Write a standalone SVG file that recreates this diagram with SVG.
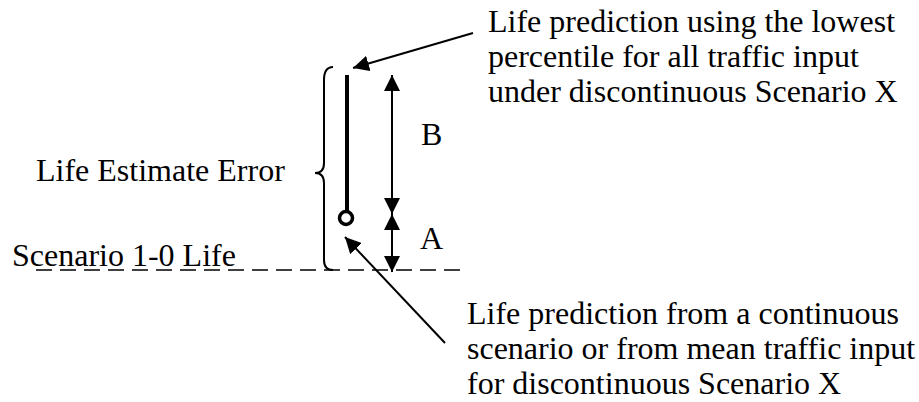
<svg xmlns="http://www.w3.org/2000/svg" width="919" height="402" viewBox="0 0 919 402">
<style>
text{font-family:"Liberation Serif","Times New Roman",serif;font-size:32px;fill:#000}
.ln{stroke:#000;fill:none;stroke-width:2}
</style>
<defs>
<marker id="ah" viewBox="0 0 16 16" refX="16" refY="8" markerWidth="16" markerHeight="16" markerUnits="userSpaceOnUse" orient="auto">
<path d="M0,0 L16,8 L0,16 z" fill="#000"/>
</marker>
</defs>
<rect width="919" height="402" fill="#fff"/>
<g id="baseline">
<line x1="36" y1="270" x2="460" y2="270" stroke="#000" stroke-width="1.5" stroke-dasharray="16,8"/>
<text x="12" y="266">Scenario 1-0 Life</text>
</g>
<g id="brace">
<path class="ln" stroke-width="1.5" d="M333,67 Q324,67 324,80 L324,163 Q324,173 315,173 Q324,173 324,183 L324,260 Q324,270 333,270"/>
<text x="36" y="181">Life Estimate Error</text>
</g>
<g id="bar">
<line x1="347" y1="75" x2="347" y2="211" stroke="#000" stroke-width="4"/>
<circle cx="346" cy="218" r="6.5" fill="none" stroke="#000" stroke-width="3.5"/>
</g>
<g id="dimB">
<line class="ln" stroke-width="1.5" x1="392" y1="214" x2="392" y2="75" marker-end="url(#ah)"/>
<line class="ln" stroke-width="1.5" x1="392" y1="75" x2="392" y2="214" marker-end="url(#ah)"/>
<text x="421" y="145">B</text>
</g>
<g id="dimA">
<line class="ln" stroke-width="1.5" x1="392" y1="272" x2="392" y2="214" marker-end="url(#ah)"/>
<line class="ln" stroke-width="1.5" x1="392" y1="214" x2="392" y2="272" marker-end="url(#ah)"/>
<text x="420" y="249">A</text>
</g>
<g id="label-top">
<text x="488" y="32">Life prediction using the lowest</text>
<text x="488" y="67">percentile for all traffic input</text>
<text x="488" y="102">under discontinuous Scenario X</text>
</g>
<g id="label-bottom">
<text x="467" y="324">Life prediction from a continuous</text>
<text x="467" y="359">scenario or from mean traffic input</text>
<text x="467" y="394">for discontinuous Scenario X</text>
</g>
<g id="connectors">
<line class="ln" x1="473" y1="33" x2="353" y2="68" marker-end="url(#ah)"/>
<line class="ln" x1="445" y1="343" x2="345" y2="237" marker-end="url(#ah)"/>
</g>
</svg>
